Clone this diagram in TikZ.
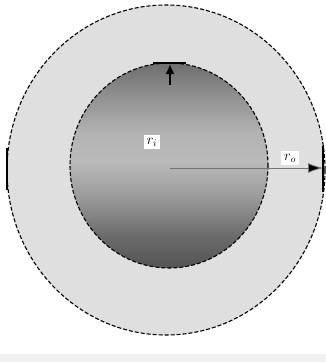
\documentclass[tikz,border=0pt]{standalone}
\usetikzlibrary{arrows.meta}
\pgfdeclareverticalshading{core}{100bp}{
  color(0bp)=(black!67);
  color(25bp)=(black!67);
  color(33bp)=(black!58);
  color(42bp)=(black!40);
  color(51bp)=(black!27);
  color(58bp)=(black!30);
  color(66bp)=(black!42);
  color(75bp)=(black!57);
  color(100bp)=(black!57)}
\begin{document}
\begin{tikzpicture}[x=1pt,y=-1pt,
  ring/.style={draw=black,line width=1.1pt,dash pattern=on 4pt off 2pt},
  lab/.style={fill=white,inner sep=3pt,font=\Large},
  arr/.style={-{Latex[length=13pt,width=10pt]},line width=0.8pt}]
\useasboundingbox (0,0) rectangle (326,362);
\fill[white] (0,0) rectangle (326,362);
\fill[gray!12] (0,354) rectangle (326,362);
\draw[ring,fill=gray!25] (166,170) ellipse [x radius=159,y radius=165];
\shade[shading=core] (169,165.5) ellipse [x radius=99,y radius=102.5];
\draw[ring] (169,165.5) ellipse [x radius=99,y radius=102.5];
\coordinate (c) at (170,168);
\coordinate (e) at (323,168);
\coordinate (t0) at (170,85);
\coordinate (t1) at (170,64);
\draw[arr,draw=black!55,-{Latex[length=15pt,width=10pt,fill=black]}] (c) -- (e);
\draw[line width=1.5pt] (323,146) -- (323,192);
\draw[line width=1.5pt] (7,148) -- (7,190);
\draw[line width=1.5pt] (153,63) -- (186,63);
\draw[arr,line width=2pt,-{Latex[length=10pt,width=9pt]}] (t0) -- (t1);
\node[lab] (ri) at (152,142) {$r_i$};
\node[lab] (ro) at (290,158) {$r_o$};
\end{tikzpicture}
\end{document}
